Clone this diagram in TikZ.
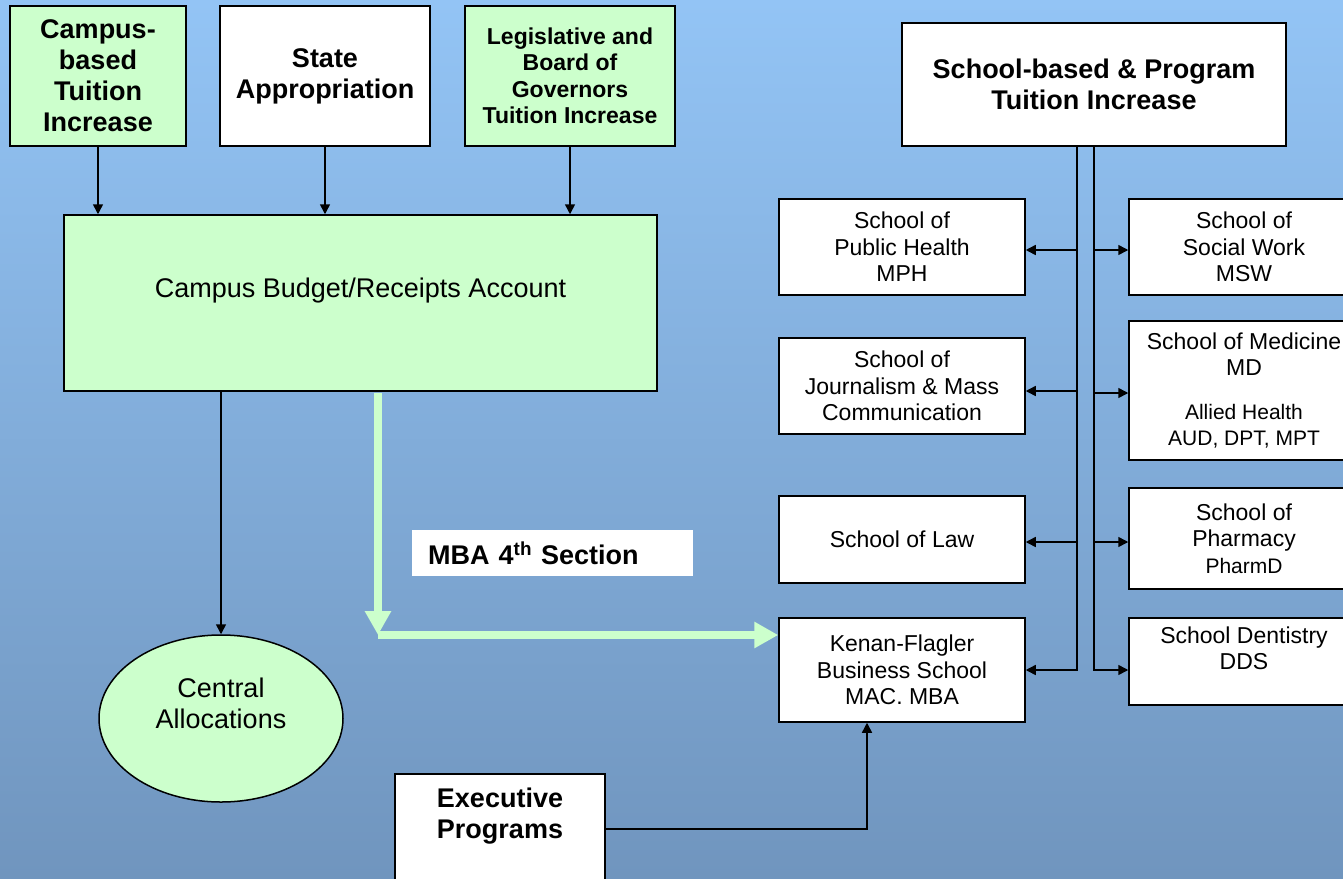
\documentclass[tikz,border=0pt]{standalone}
\usepackage{fontspec}
\setmainfont{Liberation Sans}
\usetikzlibrary{arrows.meta,shapes.geometric}
\definecolor{mint}{RGB}{204,255,204}
\definecolor{skytop}{RGB}{147,196,245}
\definecolor{skybot}{RGB}{112,149,190}

\tikzset{box/.style={draw, line width=1.5pt, fill=white, align=center, inner sep=0pt},
  mintbox/.style={box, fill=mint},
  head/.style={font=\fontsize{27}{31}\selectfont\bfseries},
  small head/.style={font=\fontsize{23}{26.5}\selectfont\bfseries},
  school/.style={box, font=\fontsize{23}{26.5}\selectfont},
  feed/.style={line width=1.5pt, -{Triangle[length=10pt,width=10pt]}},
  mba/.style={draw=mint, line width=8.5pt, -{Triangle[length=24pt,width=25pt]}}}
\newcommand{\sm}{\fontsize{21}{23}\selectfont}

\begin{document}
\begin{tikzpicture}[x=1pt,y=-1pt]
\useasboundingbox (0,0) rectangle (1343,878);
\clip (0,0) rectangle (1343,878);
\shade[top color=skytop, bottom color=skybot] (0,0) rectangle (1343,878);

% sources of money
\node[mintbox, head, minimum width=176pt, minimum height=140pt] (campus) at (98,76) {Campus-\\based\\Tuition\\Increase};
\node[box, head, minimum width=210pt, minimum height=140pt] (state) at (325,76) {State\\Appropriation};
\node[mintbox, small head, minimum width=210pt, minimum height=140pt] (legis) at (570,76) {Legislative and\\Board of\\Governors\\Tuition Increase};
\node[box, head, minimum width=384pt, minimum height=123pt] (schoolinc) at (1094,84.5) {School-based \& Program\\Tuition Increase};

\node[mintbox, font=\fontsize{27}{31}\selectfont, minimum width=593pt, minimum height=176pt] (budget) at (360.5,303) {Campus Budget/Receipts Account\\~};
\node[draw, ellipse, fill=mint, line width=1.5pt, align=center, inner sep=0pt, minimum width=244pt, minimum height=167pt, font=\fontsize{27}{31}\selectfont] (central) at (221,718.5) {Central\\Allocations\\~};
\node[fill=white, anchor=west, minimum height=46pt, text width=249pt, inner xsep=16pt, inner ysep=0pt, align=left, font=\fontsize{27}{31}\selectfont\bfseries] (mbasec) at (412,553) {MBA 4\textsuperscript{th} Section};
\node[box, head, minimum width=210pt, minimum height=110pt] (exec) at (500,829) {Executive\\Programs\\~};

% schools, left column
\node[school, minimum width=246pt, minimum height=96pt] (pubhealth) at (902,247) {School of\\Public Health\\MPH};
\node[school, minimum width=246pt, minimum height=96pt] (journalism) at (902,386) {School of\\Journalism \& Mass\\Communication};
\node[school, minimum width=246pt, minimum height=87pt] (law) at (902,539.5) {School of Law};
\node[school, minimum width=246pt, minimum height=104pt] (kenan) at (902,670) {Kenan-Flagler\\Business School\\MAC. MBA};

% schools, right column
\node[school, minimum width=230pt, minimum height=96pt] (socialwork) at (1244,247) {School of\\Social Work\\MSW};
\node[school, minimum width=230pt, minimum height=139pt] (medicine) at (1244,390.5) {School of Medicine\\MD\\[17pt]\sm Allied Health\\\sm AUD, DPT, MPT};
\node[school, minimum width=230pt, minimum height=101pt] (pharmacy) at (1244,538.5) {School of\\Pharmacy\\\sm PharmD};
\node[school, minimum width=230pt, minimum height=87pt] (dentistry) at (1244,661.5) {School Dentistry\\DDS\\~};

% flows into the budget
\draw[feed] (campus) -- (campus |- budget.north);
\draw[feed] (state) -- (state |- budget.north);
\draw[feed] (legis) -- (legis |- budget.north);
\draw[feed] (central.north |- budget.south) -- (central);

% MBA 4th section
\coordinate (mbaturn) at (378,635);
\draw[mba, shorten <=1pt] (mbaturn |- budget.south) -- (mbaturn);
\draw[mba] (mbaturn) -- (kenan.west |- mbaturn);

% school-based trunks
\coordinate (ltrunk) at (1077,670);
\coordinate (rtrunk) at (1094,670);
\draw[feed] (ltrunk |- schoolinc.south) |- (kenan.east);
\draw[feed] (rtrunk |- schoolinc.south) |- (dentistry.west |- rtrunk);
\draw[feed] ([yshift=-3pt]pubhealth.east -| ltrunk) -- ([yshift=-3pt]pubhealth.east);
\draw[feed] ([yshift=-5pt]journalism.east -| ltrunk) -- ([yshift=-5pt]journalism.east);
\draw[feed] ([yshift=-2.5pt]law.east -| ltrunk) -- ([yshift=-2.5pt]law.east);
\draw[feed] ([yshift=-3pt]socialwork.west -| rtrunk) -- ([yshift=-3pt]socialwork.west);
\draw[feed] ([yshift=-2.5pt]medicine.west -| rtrunk) -- ([yshift=-2.5pt]medicine.west);
\draw[feed] ([yshift=-3.5pt]pharmacy.west -| rtrunk) -- ([yshift=-3.5pt]pharmacy.west);

\draw[feed] (exec.east) -| ([xshift=-35pt]kenan.south);
\end{tikzpicture}
\end{document}
